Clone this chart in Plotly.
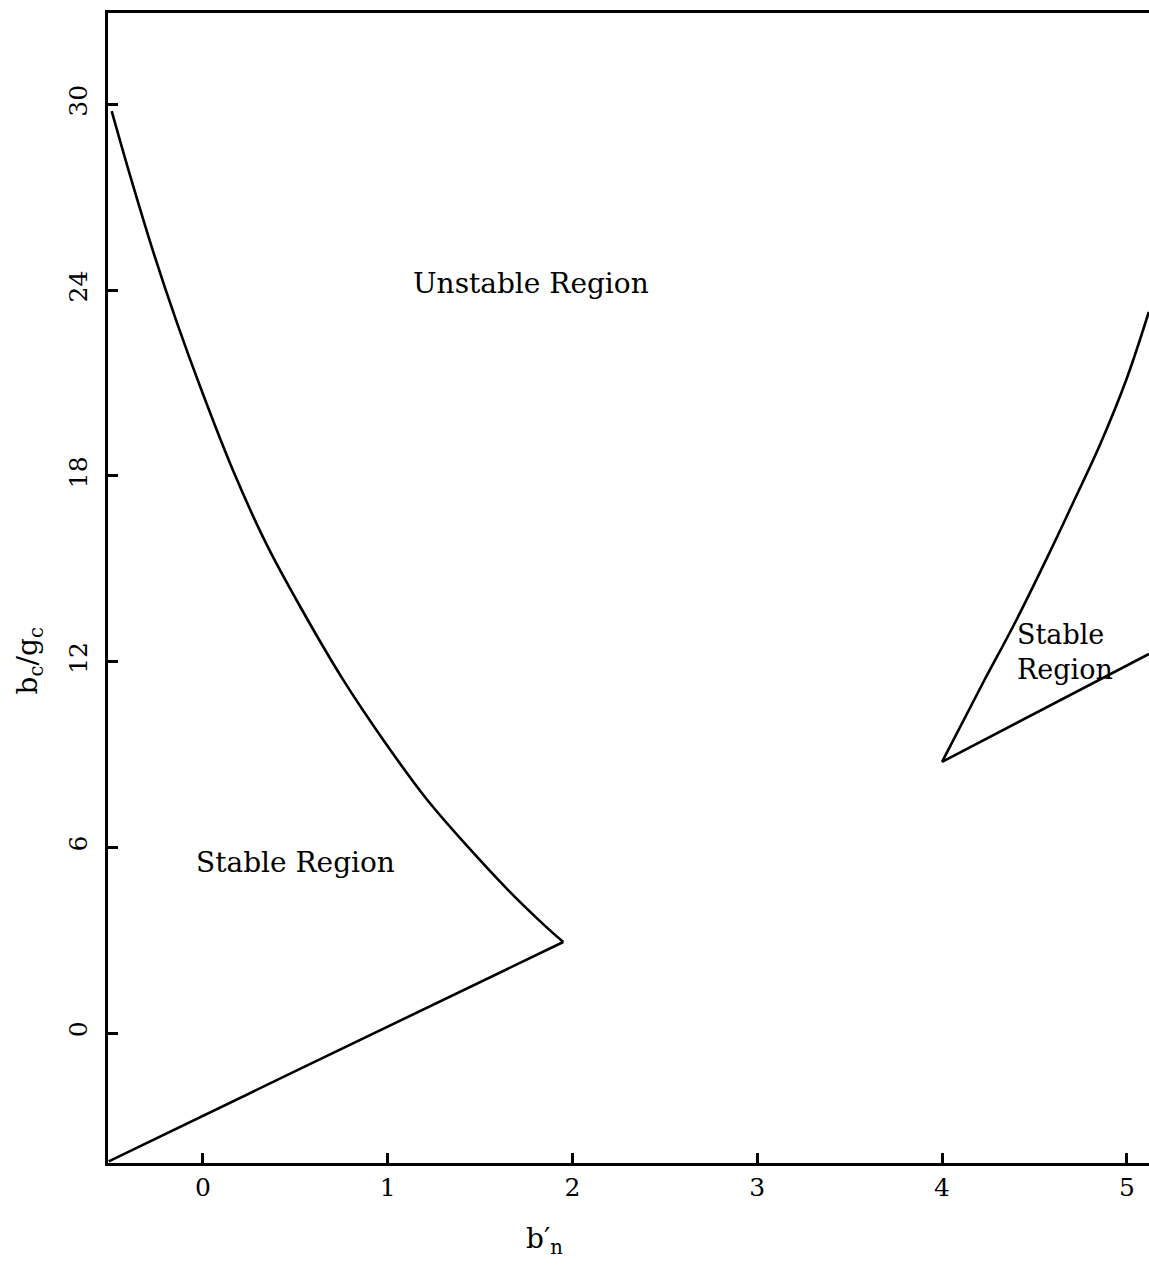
import plotly.graph_objects as go

# Left stable region: upper boundary curve (from the axis down to the tip)
left_upper_x = [-0.494, -0.395, -0.269, -0.142, -0.016, 0.164, 0.345, 0.525, 0.759, 0.976, 1.21, 1.427, 1.661, 1.841, 1.95]
left_upper_y = [29.79, 27.72, 25.24, 22.97, 20.90, 18.16, 15.78, 13.79, 11.41, 9.47, 7.56, 6.06, 4.56, 3.52, 2.94]
# Left stable region: lower boundary line (from the tip back to the corner)
left_lower_x = [1.95, 0.525, -0.51]
left_lower_y = [2.94, -1.16, -4.15]

# Right stable region boundaries
right_upper_x = [4.0, 4.221, 4.394, 4.583, 4.708, 4.854, 5.0, 5.119]
right_upper_y = [8.76, 11.31, 13.25, 15.54, 17.12, 19.0, 21.16, 23.3]
right_lower_x = [4.0, 5.12]
right_lower_y = [8.76, 12.25]

x_ticks = [0, 1, 2, 3, 4, 5]
y_ticks = [0, 6, 12, 18, 24, 30]

FONT = "DejaVu Serif"
LINE = dict(color="black", width=2.6)

fig = go.Figure()
fig.add_trace(go.Scatter(x=left_upper_x, y=left_upper_y, mode="lines",
                         line=dict(LINE, shape="spline", smoothing=1.0), showlegend=False))
fig.add_trace(go.Scatter(x=left_lower_x, y=left_lower_y, mode="lines",
                         line=dict(LINE, shape="spline", smoothing=0.6), showlegend=False))
fig.add_trace(go.Scatter(x=right_upper_x, y=right_upper_y, mode="lines",
                         line=dict(LINE, shape="spline", smoothing=1.0), showlegend=False))
fig.add_trace(go.Scatter(x=right_lower_x, y=right_lower_y, mode="lines", line=LINE, showlegend=False))

fig.add_annotation(x=1.775, y=24.23, text="Unstable Region", showarrow=False,
                   font=dict(family=FONT, size=28, color="black"))
fig.add_annotation(x=0.503, y=5.52, text="Stable Region", showarrow=False,
                   font=dict(family=FONT, size=28, color="black"))
fig.add_annotation(x=4.394, y=12.3, text="Stable<br>Region", showarrow=False, xanchor="left",
                   align="left", font=dict(family=FONT, size=27, color="black"))

# Axis titles (placed as annotations to match the original's positions)
fig.add_annotation(x=1.85, xref="x", y=-0.067, yref="paper", text="b′<sub>n</sub>",
                   xanchor="center", yanchor="middle",
                   showarrow=False, font=dict(family=FONT, size=28, color="black"))
fig.add_annotation(x=-0.075, xref="paper", y=0.437, yref="paper", text="b<sub>c</sub>/g<sub>c</sub>",
                   xanchor="center", yanchor="middle",
                   textangle=-90, showarrow=False, font=dict(family=FONT, size=28, color="black"))

fig.update_layout(
    width=1149, height=1275,
    margin=dict(l=108, r=0, t=13, b=112, autoexpand=False),
    paper_bgcolor="white", plot_bgcolor="white",
    font=dict(family=FONT, size=25, color="black"),
    xaxis=dict(range=[-0.514, 5.12], tickvals=x_ticks, ticktext=[str(v) for v in x_ticks],
               ticks="inside", ticklen=10, tickwidth=3, tickcolor="black",
               showline=True, linewidth=3, linecolor="black", mirror=True,
               showgrid=False, zeroline=False, automargin=False),
    yaxis=dict(range=[-4.2, 32.96], tickvals=y_ticks, ticktext=[str(v) for v in y_ticks],
               ticks="inside", ticklen=10, tickwidth=3, tickcolor="black", tickangle=-90,
               ticklabelstandoff=8,
               showline=True, linewidth=3, linecolor="black",
               showgrid=False, zeroline=False, automargin=False),
)

fig.write_html("out.html", config={"displayModeBar": False},
               post_script="document.body.style.margin='0px'; document.body.style.overflow='hidden';")
